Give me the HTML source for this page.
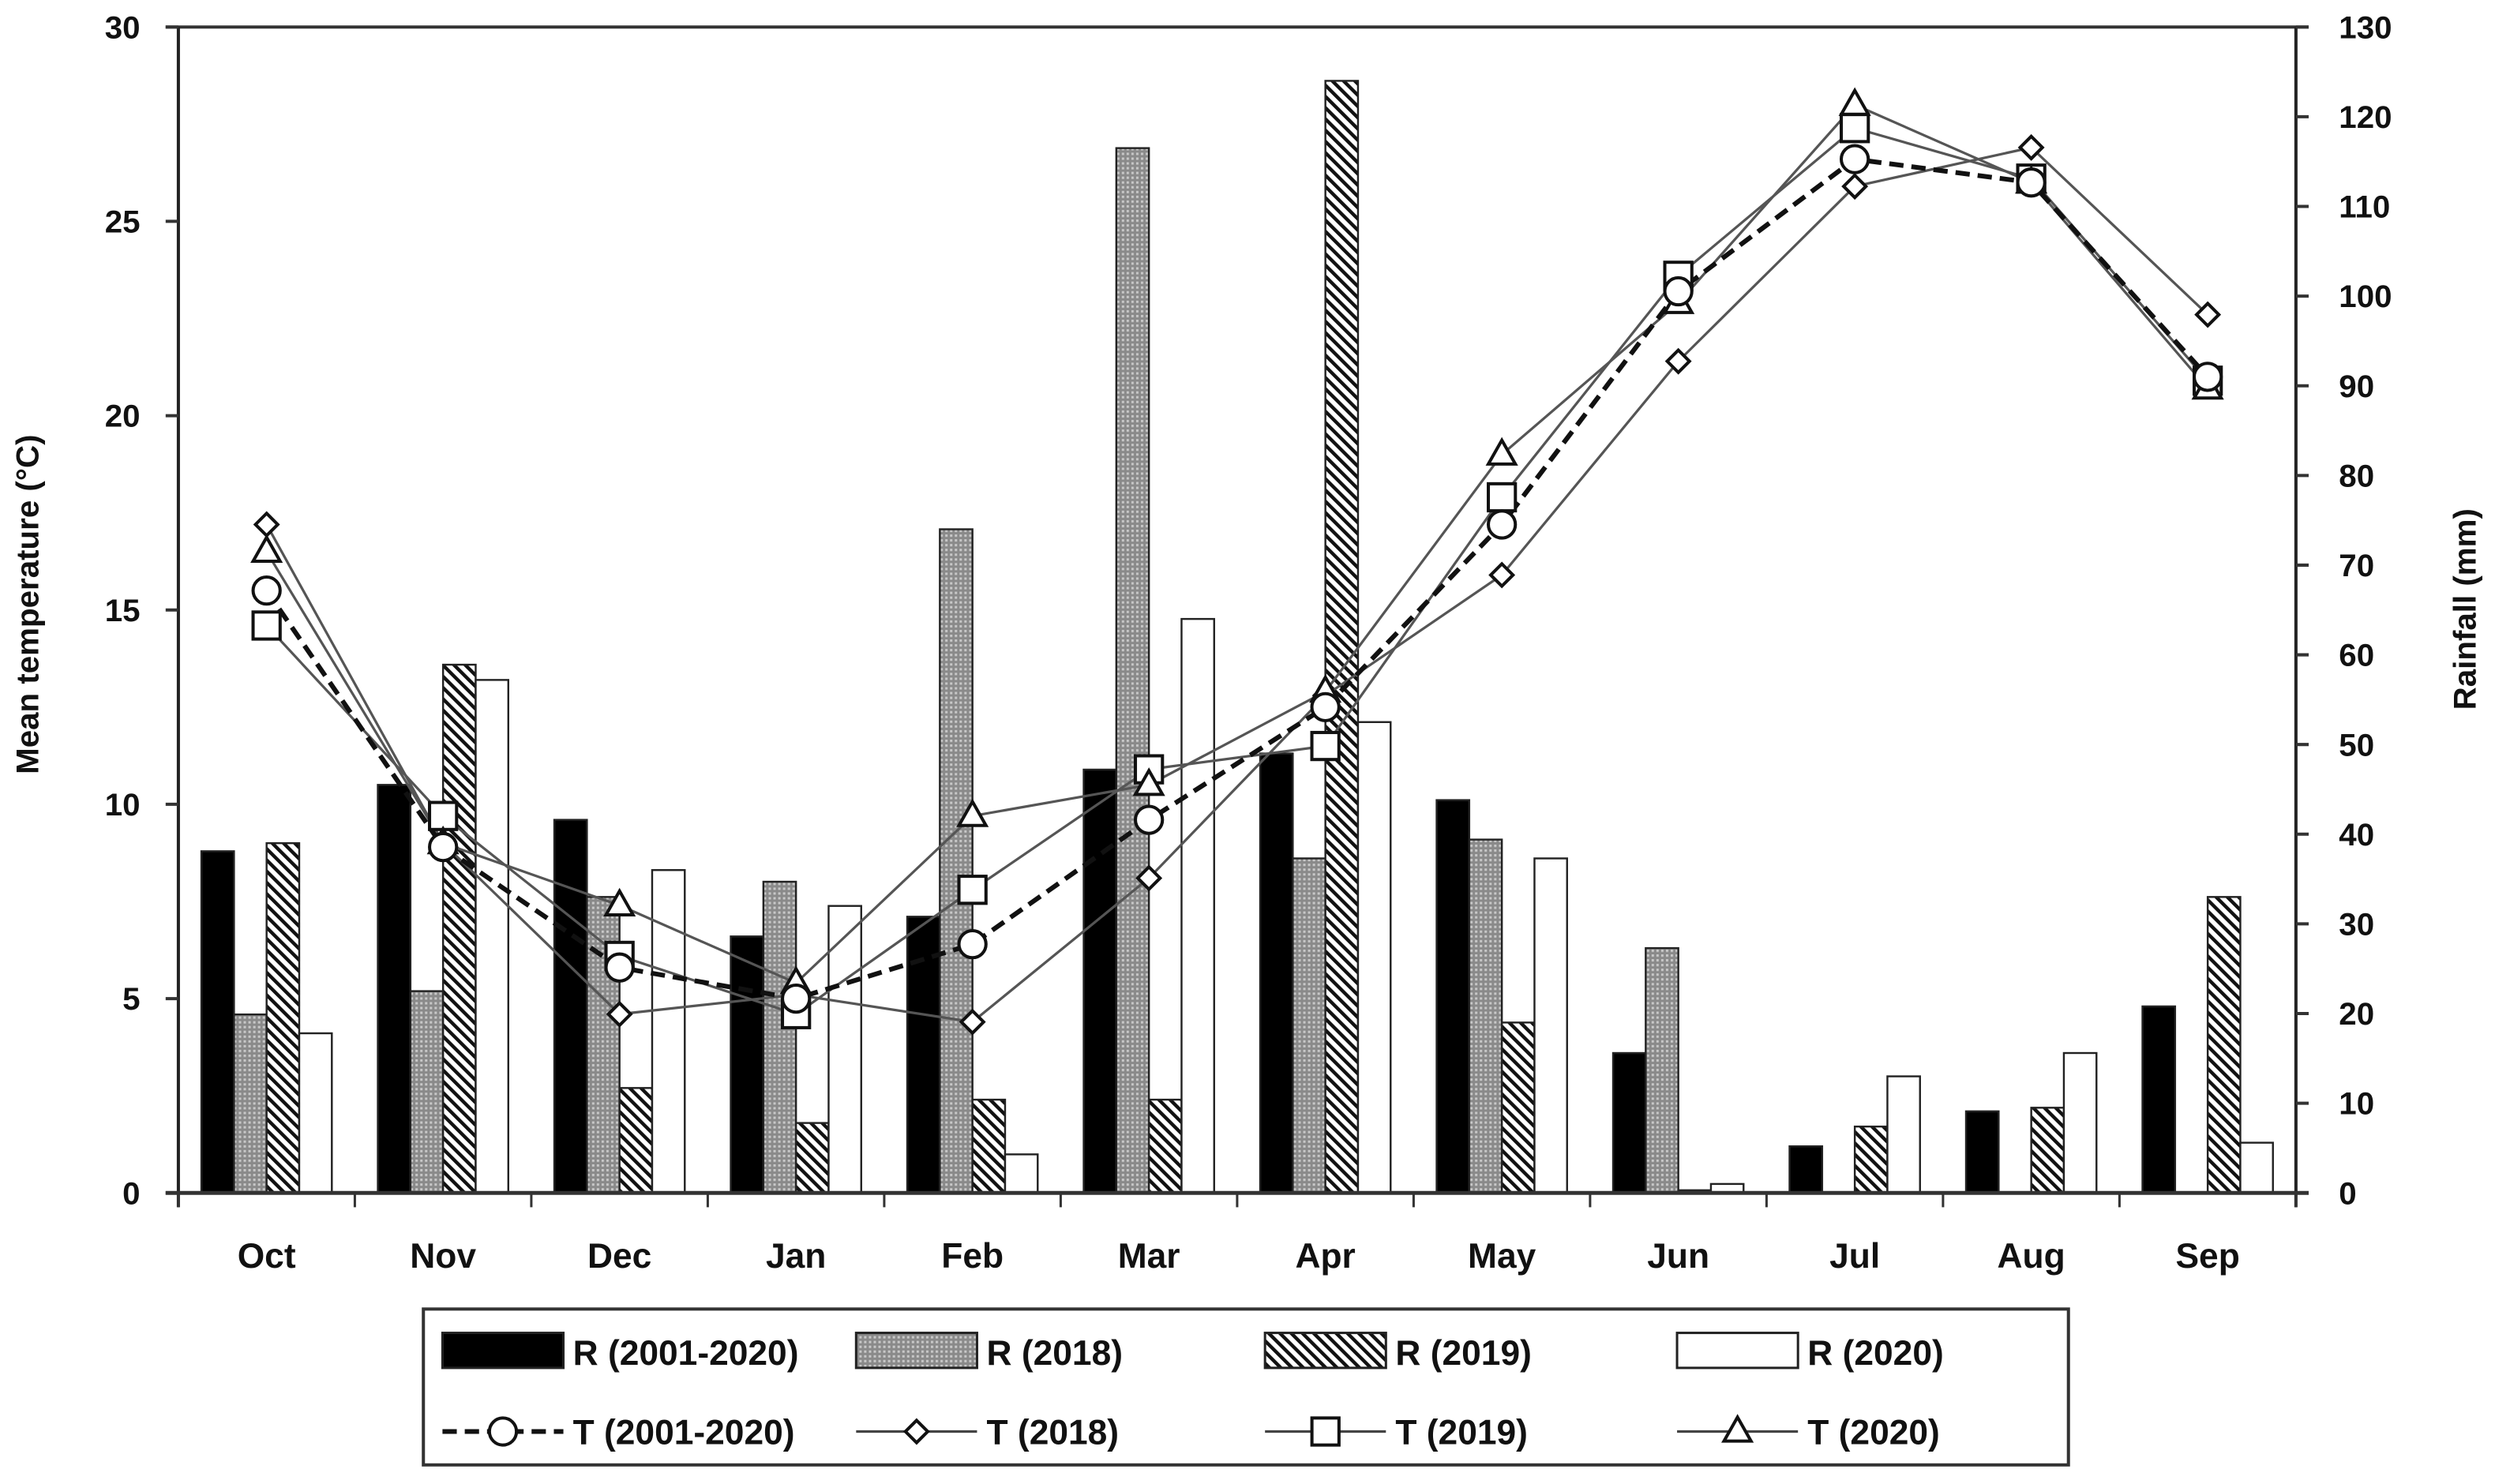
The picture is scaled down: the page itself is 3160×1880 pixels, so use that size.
<!DOCTYPE html>
<html><head><meta charset="utf-8"><style>
html,body{margin:0;padding:0;background:#fff;}
svg{display:block;}
text{font-family:"Liberation Sans",sans-serif;font-weight:bold;fill:#111;}
</style></head><body>
<svg id="chart" width="3160" height="1880" viewBox="0 0 1568 933" xmlns="http://www.w3.org/2000/svg">
<defs>
<pattern id="dots" width="3" height="3" patternUnits="userSpaceOnUse"><rect width="3" height="3" fill="#8a8a8a"/><rect width="1.5" height="1.5" fill="#c8c8c8"/></pattern>
<pattern id="hatch" width="5" height="5" patternUnits="userSpaceOnUse" patternTransform="rotate(-45)"><rect width="5" height="5" fill="#fff"/><rect width="2.2" height="5" fill="#111"/></pattern>
</defs>
<g id="plot"></g>
</svg>
<script>
const months=["Oct","Nov","Dec","Jan","Feb","Mar","Apr","May","Jun","Jul","Aug","Sep"];
const rainAvg=[38.1,45.5,41.6,28.6,30.8,47.2,49,43.8,15.6,5.2,9.1,20.8];
const rain2018=[19.9,22.5,33,34.7,74,116.5,37.3,39.4,27.3,0,0,0];
const rain2019=[39,58.9,11.7,7.8,10.4,10.4,124,19,0.3,7.4,9.5,33];
const rain2020=[17.8,57.2,36,32,4.3,64,52.5,37.3,1,13,15.6,5.6];
const tAvg=[15.5,8.9,5.8,5.0,6.4,9.6,12.5,17.2,23.2,26.6,26.0,21.0];
const t2018=[17.2,9.0,4.6,5.1,4.4,8.1,12.8,15.9,21.4,25.9,26.9,22.6];
const t2019=[14.6,9.7,6.1,4.6,7.8,10.9,11.5,17.9,23.6,27.4,26.1,20.9];
const t2020=[16.5,9.0,7.4,5.4,9.7,10.5,12.9,19.0,22.9,28.0,26.0,20.7];
const tempTicks=[0,5,10,15,20,25,30];
const rainTicks=[0,10,20,30,40,50,60,70,80,90,100,110,120,130];

const L=112,R=1443,T=17,B=750;
const bw=(R-L)/months.length;
const xC=i=>L+bw*(i+0.5);
const yT=v=>B-(v/30)*(B-T);
const yR=v=>B-(v/130)*(B-T);
const g=document.getElementById('plot');
const NS="http://www.w3.org/2000/svg";
function mk(tag,attrs,parent){const e=document.createElementNS(NS,tag);for(const k in attrs)e.setAttribute(k,attrs[k]);(parent||g).appendChild(e);return e;}

const barSeries=[[rainAvg,"#000"],[rain2018,"url(#dots)"],[rain2019,"url(#hatch)"],[rain2020,"#fff"]];
const barW=20.5;
barSeries.forEach((s,si)=>{
  s[0].forEach((v,i)=>{
    const x=xC(i)-41+si*barW;
    if(v<=0)return;
    const r=mk('rect',{x:x,y:yR(v),width:barW,height:B-yR(v),fill:s[1],stroke:"#222","stroke-width":1.2});
    
    
  });
});

mk('line',{x1:L-8,y1:T,x2:R+8,y2:T,stroke:"#333","stroke-width":2});
mk('line',{x1:L,y1:T,x2:L,y2:B+9,stroke:"#222","stroke-width":2});
mk('line',{x1:R,y1:T,x2:R,y2:B+9,stroke:"#222","stroke-width":2});
mk('line',{x1:L-8,y1:B,x2:R+8,y2:B,stroke:"#333","stroke-width":2.5});
tempTicks.forEach(v=>{
  mk('line',{x1:L-8,y1:yT(v),x2:L,y2:yT(v),stroke:"#333","stroke-width":2});
  const t=mk('text',{x:L-24,y:yT(v)+7,"text-anchor":"end","font-size":20});t.textContent=v;
  
  
});
rainTicks.forEach(v=>{
  mk('line',{x1:R,y1:yR(v),x2:R+8,y2:yR(v),stroke:"#333","stroke-width":2});
  const t=mk('text',{x:R+27,y:yR(v)+7,"text-anchor":"start","font-size":20});t.textContent=v;
  
  
});
for(let i=0;i<=months.length;i++){mk('line',{x1:L+bw*i,y1:B,x2:L+bw*i,y2:B+9,stroke:"#333","stroke-width":1.5});}
months.forEach((m,i)=>{const t=mk('text',{x:xC(i),y:797,"text-anchor":"middle","font-size":22});t.textContent=m;
  
  });
let yl=mk('text',{x:0,y:0,transform:"translate(24,380) rotate(-90)","text-anchor":"middle","font-size":20});yl.textContent="Mean temperature (°C)";


let yr=mk('text',{x:0,y:0,transform:"translate(1556,383) rotate(-90)","text-anchor":"middle","font-size":20});yr.textContent="Rainfall (mm)";



function marker(type,x,y,parent){
  const st={fill:"#fff",stroke:"#111","stroke-width":2};
  if(type==='circle')return mk('circle',Object.assign({cx:x,cy:y,r:8.5},st),parent);
  if(type==='diamond')return mk('polygon',Object.assign({points:`${x},${y-7} ${x+7},${y} ${x},${y+7} ${x-7},${y}`},st),parent);
  if(type==='square')return mk('rect',Object.assign({x:x-8.5,y:y-8.5,width:17,height:17},st),parent);
  return mk('polygon',Object.assign({points:`${x},${y-9} ${x+8.5},${y+6} ${x-8.5},${y+6}`},st),parent);
}
const lineSeries=[[t2018,'diamond',"#555",1.6,null],[t2019,'square',"#555",1.6,null],[t2020,'triangle',"#555",1.6,null],[tAvg,'circle',"#111",3,"9,5"]];
lineSeries.forEach((s,si)=>{
  const pts=s[0].map((v,i)=>xC(i)+','+yT(v)).join(' ');
  const a={points:pts,fill:"none",stroke:s[2],"stroke-width":s[3]};if(s[4])a["stroke-dasharray"]=s[4];
  const pl=mk('polyline',a);
  
  
});
lineSeries.forEach(s=>{s[0].forEach((v,i)=>{const m=marker(s[1],xC(i),yT(v));
  
  });});

const lg=mk('g',{});


mk('rect',{x:266,y:823,width:1034,height:98,fill:"#fff",stroke:"#333","stroke-width":2},lg);
const legendBars=[["#000","R (2001-2020)"],["url(#dots)","R (2018)"],["url(#hatch)","R (2019)"],["#fff","R (2020)"]];
const lx=[278,538,795,1054];
legendBars.forEach((e,i)=>{
  mk('rect',{x:lx[i],y:838,width:76,height:22,fill:e[0],stroke:"#222","stroke-width":1.5},lg);
  const t=mk('text',{x:lx[i]+82,y:858,"font-size":22},lg);t.textContent=e[1];
  
  
});
const legendLines=[['circle',"T (2001-2020)","#111",3,"9,5"],['diamond',"T (2018)","#444",1.6,null],['square',"T (2019)","#444",1.6,null],['triangle',"T (2020)","#444",1.6,null]];
legendLines.forEach((e,i)=>{
  const a={x1:lx[i],y1:900,x2:lx[i]+76,y2:900,stroke:e[2],"stroke-width":e[3]};if(e[4])a["stroke-dasharray"]=e[4];
  mk('line',a,lg);
  marker(e[0],lx[i]+38,900,lg);
  const t=mk('text',{x:lx[i]+82,y:908,"font-size":22},lg);t.textContent=e[1];
  
  
});
</script>
</body></html>
